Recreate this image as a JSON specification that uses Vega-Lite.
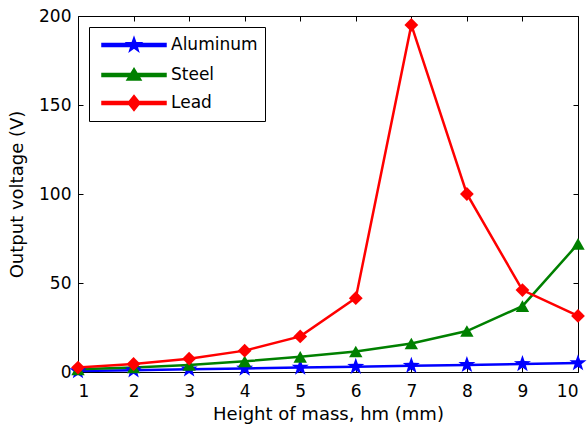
{
  "$schema": "https://vega.github.io/schema/vega-lite/v6.json",
  "autosize": "none",
  "width": 500,
  "height": 356,
  "padding": {"left": 78, "top": 16, "right": 10, "bottom": 56},
  "background": "white",
  "config": {
    "view": {"stroke": "black", "strokeWidth": 1},
    "font": "DejaVu Sans",
    "axis": {"domain": false, "grid": false, "labelFont": "DejaVu Sans", "labelFontSize": 17, "labelColor": "black", "titleFont": "DejaVu Sans", "titleFontSize": 18, "titleFontWeight": "normal", "titleColor": "black", "tickColor": "black", "tickSize": -5, "labelPadding": 12}
  },
  "data": {
    "values": [
      {"h": 1, "material": "Aluminum", "v": 0.5},
      {"h": 2, "material": "Aluminum", "v": 1},
      {"h": 3, "material": "Aluminum", "v": 1.5},
      {"h": 4, "material": "Aluminum", "v": 2},
      {"h": 5, "material": "Aluminum", "v": 2.5},
      {"h": 6, "material": "Aluminum", "v": 3},
      {"h": 7, "material": "Aluminum", "v": 3.5},
      {"h": 8, "material": "Aluminum", "v": 4},
      {"h": 9, "material": "Aluminum", "v": 4.5},
      {"h": 10, "material": "Aluminum", "v": 5},
      {"h": 1, "material": "Steel", "v": 1.5},
      {"h": 2, "material": "Steel", "v": 2.5},
      {"h": 3, "material": "Steel", "v": 4},
      {"h": 4, "material": "Steel", "v": 6},
      {"h": 5, "material": "Steel", "v": 8.5},
      {"h": 6, "material": "Steel", "v": 11.5},
      {"h": 7, "material": "Steel", "v": 16},
      {"h": 8, "material": "Steel", "v": 23},
      {"h": 9, "material": "Steel", "v": 37},
      {"h": 10, "material": "Steel", "v": 72},
      {"h": 1, "material": "Lead", "v": 2.5},
      {"h": 2, "material": "Lead", "v": 4.5},
      {"h": 3, "material": "Lead", "v": 7.5},
      {"h": 4, "material": "Lead", "v": 12},
      {"h": 5, "material": "Lead", "v": 20},
      {"h": 6, "material": "Lead", "v": 41.5},
      {"h": 7, "material": "Lead", "v": 195},
      {"h": 8, "material": "Lead", "v": 100},
      {"h": 9, "material": "Lead", "v": 46},
      {"h": 10, "material": "Lead", "v": 31.5}
    ]
  },
  "layer": [
    {
      "mark": {"type": "point", "filled": true, "opacity": 0, "size": 400},
      "encoding": {
        "x": {"field": "h", "type": "quantitative", "scale": {"domain": [1, 10], "nice": false, "zero": false}, "axis": {"orient": "top", "labels": false, "title": null, "values": [1,2,3,4,5,6,7,8,9,10]}},
        "y": {"field": "v", "type": "quantitative", "scale": {"domain": [0, 200], "nice": false}, "axis": {"orient": "right", "labels": false, "title": null, "values": [0,50,100,150,200]}},
        "color": {
          "field": "material", "type": "nominal",
          "scale": {"domain": ["Aluminum", "Steel", "Lead"], "range": ["#0000ff", "#008000", "#ff0000"]},
          "legend": {
            "title": null, "orient": "top-left", "offset": 11,
            "strokeColor": "black", "fillColor": "white", "padding": 7, "symbolOffset": 5,
            "labelFont": "DejaVu Sans", "labelFontSize": 17, "labelColor": "black",
            "symbolSize": 400, "symbolOpacity": 1, "labelOffset": 48, "rowPadding": 9
          }
        },
        "shape": {
          "field": "material", "type": "nominal",
          "scale": {"domain": ["Aluminum", "Steel", "Lead"], "range": [
            "M-1,-0.14H5.4V0.14H-1ZM2.2,-0.75L2.376,-0.243L2.913,-0.232L2.485,0.093L2.641,0.607L2.2,0.3L1.759,0.607L1.915,0.093L1.487,-0.232L2.024,-0.243Z",
            "M-1,-0.14H5.4V0.14H-1ZM2.2,-0.65L2.9,0.5L1.5,0.5Z",
            "M-1,-0.14H5.4V0.14H-1ZM2.2,-0.75L2.8,0L2.2,0.75L1.6,0Z"
          ]},
          "legend": {
            "title": null, "orient": "top-left", "offset": 11,
            "strokeColor": "black", "fillColor": "white", "padding": 7, "symbolOffset": 5,
            "labelFont": "DejaVu Sans", "labelFontSize": 17, "labelColor": "black",
            "symbolSize": 400, "symbolOpacity": 1, "labelOffset": 48, "rowPadding": 9
          }
        }
      }
    },
    {
      "mark": {"type": "line", "strokeWidth": 2.5},
      "encoding": {
        "x": {"field": "h", "type": "quantitative", "axis": {"orient": "bottom", "title": "Height of mass, hm (mm)", "values": [1,2,3,4,5,6,7,8,9,10], "labelPadding": 16, "titlePadding": 6}},
        "y": {"field": "v", "type": "quantitative", "axis": {"orient": "left", "title": "Output voltage (V)", "values": [0,50,100,150,200], "titlePadding": 12}},
        "color": {"field": "material", "type": "nominal", "legend": null}
      }
    },
    {
      "transform": [{"filter": "datum.material === 'Aluminum'"}],
      "mark": {"type": "point", "filled": true, "opacity": 1, "color": "#0000ff", "size": 320, "shape": "M0,-1L0.235,-0.324L0.951,-0.309L0.38,0.124L0.588,0.809L0,0.4L-0.588,0.809L-0.38,0.124L-0.951,-0.309L-0.235,-0.324Z"},
      "encoding": {
        "x": {"field": "h", "type": "quantitative", "axis": null},
        "y": {"field": "v", "type": "quantitative", "axis": null}
      }
    },
    {
      "transform": [{"filter": "datum.material === 'Steel'"}],
      "mark": {"type": "point", "filled": true, "opacity": 1, "color": "#008000", "size": 180, "shape": "triangle-up"},
      "encoding": {
        "x": {"field": "h", "type": "quantitative", "axis": null},
        "y": {"field": "v", "type": "quantitative", "axis": null}
      }
    },
    {
      "transform": [{"filter": "datum.material === 'Lead'"}],
      "mark": {"type": "point", "filled": true, "opacity": 1, "color": "#ff0000", "size": 190, "shape": "diamond"},
      "encoding": {
        "x": {"field": "h", "type": "quantitative", "axis": null},
        "y": {"field": "v", "type": "quantitative", "axis": null}
      }
    }
  ],
  "resolve": {"axis": {"x": "independent", "y": "independent"}}
}
